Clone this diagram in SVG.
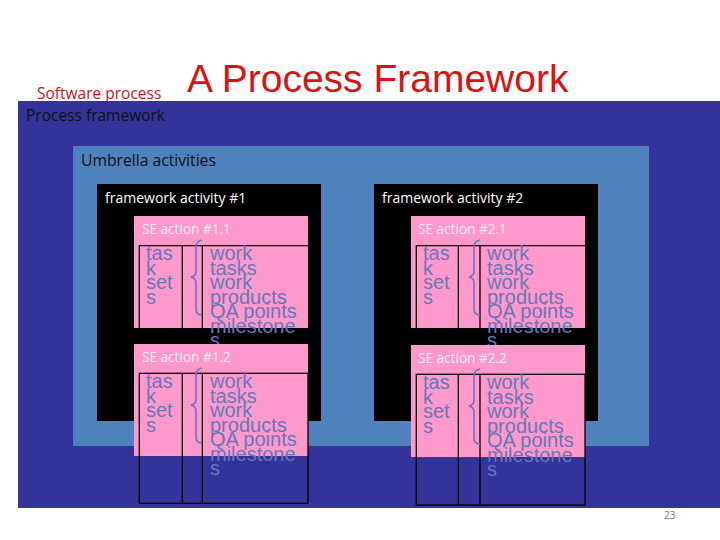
<svg xmlns="http://www.w3.org/2000/svg" width="720" height="540" viewBox="0 0 720 540">
<style>
.ui{font-family:"Liberation Sans","DejaVu Sans",sans-serif}
.lbl{font-family:"Open Sans","Liberation Sans",sans-serif}
.fa{fill:#000}
.se{fill:#ff99cc}
.tbl{fill:none;stroke:#000;stroke-width:1.3}
.sel{font-size:13.6px;fill:#fff;fill-opacity:0.85}
.fal{font-size:14px;fill:#fff}
.cell{font-family:"Liberation Sans",Arial,sans-serif;font-size:20px;fill:#6677bb}
.brace{fill:none;stroke:#6677bb;stroke-width:1.6}
</style>
<rect width="720" height="540" fill="#fff"/>
<text class="ui" x="187" y="92" font-size="39" fill="#dd1111">A Process Framework</text>
<g id="software-process">
<text class="lbl" x="37" y="99" font-size="15.5" fill="#c0151c">Software process</text>
</g>
<g id="process-framework">
<rect x="18" y="101" width="702" height="407" fill="#333399"/>
<text class="lbl" x="26" y="121" font-size="15.5" fill="#111">Process framework</text>
</g>
<g id="umbrella">
<rect x="73" y="146" width="576" height="300" fill="#4f81bd"/>
<text class="lbl" x="81" y="166" font-size="15.7" fill="#111">Umbrella activities</text>
</g>
<g id="fa1">
<rect class="fa" x="97" y="184" width="224" height="237"/>
<text class="lbl fal" x="105" y="203">framework activity #1</text>
</g>
<g id="fa2">
<rect class="fa" x="374" y="184" width="224" height="237"/>
<text class="lbl fal" x="382" y="203">framework activity #2</text>
</g>
<g id="se11">
<rect class="se" x="134" y="216" width="174" height="112"/>
<text class="lbl sel" x="142" y="234">SE action #1.1</text>
<path class="tbl" d="M308,245.7 H139.3 V328 M182.3,245.7 V328 M202.3,245.7 V328"/>
<text class="cell" x="146" y="260">tas</text>
<text class="cell" x="146" y="274.5">k</text>
<text class="cell" x="146" y="289">set</text>
<text class="cell" x="146" y="303.5">s</text>
<path class="brace" d="M202,240 Q196,241 196,247 V271 Q196,276 191,277 Q196,278 196,283 V309 Q196,315 202,315"/>
<text class="cell" x="210" y="260">work</text>
<text class="cell" x="210" y="274.5">tasks</text>
<text class="cell" x="210" y="289">work</text>
<text class="cell" x="210" y="303.5">products</text>
<text class="cell" x="210" y="318">QA points</text>
<text class="cell" x="210" y="332.5">milestone</text>
<text class="cell" x="210" y="347">s</text>
</g>
<g id="se12">
<rect class="se" x="134" y="344" width="174" height="112"/>
<text class="lbl sel" x="142" y="362">SE action #1.2</text>
<rect class="tbl" x="139.3" y="373.3" width="168.7" height="130"/>
<path class="tbl" d="M182.3,373.3 V503.3 M202.3,373.3 V503.3"/>
<text class="cell" x="146" y="388">tas</text>
<text class="cell" x="146" y="402.5">k</text>
<text class="cell" x="146" y="417">set</text>
<text class="cell" x="146" y="431.5">s</text>
<path class="brace" d="M202,368 Q196,369 196,375 V399 Q196,404 191,405 Q196,406 196,411 V437 Q196,443 202,443"/>
<text class="cell" x="210" y="388">work</text>
<text class="cell" x="210" y="402.5">tasks</text>
<text class="cell" x="210" y="417">work</text>
<text class="cell" x="210" y="431.5">products</text>
<text class="cell" x="210" y="446">QA points</text>
<text class="cell" x="210" y="460.5">milestone</text>
<text class="cell" x="210" y="475">s</text>
</g>
<g id="se21">
<rect class="se" x="411" y="216" width="174" height="112"/>
<text class="lbl sel" x="418" y="234">SE action #2.1</text>
<path class="tbl" d="M585,245.7 H416.3 V328 M458.3,245.7 V328 M480,245.7 V328"/>
<text class="cell" x="423" y="260">tas</text>
<text class="cell" x="423" y="274.5">k</text>
<text class="cell" x="423" y="289">set</text>
<text class="cell" x="423" y="303.5">s</text>
<path class="brace" d="M480,240 Q474,241 474,247 V271 Q474,276 469,277 Q474,278 474,283 V309 Q474,315 480,315"/>
<text class="cell" x="487" y="260">work</text>
<text class="cell" x="487" y="274.5">tasks</text>
<text class="cell" x="487" y="289">work</text>
<text class="cell" x="487" y="303.5">products</text>
<text class="cell" x="487" y="318">QA points</text>
<text class="cell" x="487" y="332.5">milestone</text>
<text class="cell" x="487" y="347">s</text>
</g>
<g id="se22">
<rect class="se" x="411" y="345" width="174" height="112"/>
<text class="lbl sel" x="418" y="363">SE action #2.2</text>
<rect class="tbl" x="416.3" y="374.3" width="168.7" height="130.7"/>
<path class="tbl" d="M458.3,374.3 V505 M480,374.3 V505"/>
<text class="cell" x="423" y="389">tas</text>
<text class="cell" x="423" y="403.5">k</text>
<text class="cell" x="423" y="418">set</text>
<text class="cell" x="423" y="432.5">s</text>
<path class="brace" d="M480,369 Q474,370 474,376 V400 Q474,405 469,406 Q474,407 474,412 V438 Q474,444 480,444"/>
<text class="cell" x="487" y="389">work</text>
<text class="cell" x="487" y="403.5">tasks</text>
<text class="cell" x="487" y="418">work</text>
<text class="cell" x="487" y="432.5">products</text>
<text class="cell" x="487" y="447">QA points</text>
<text class="cell" x="487" y="461.5">milestone</text>
<text class="cell" x="487" y="476">s</text>
</g>
<text class="lbl" x="664" y="519" font-size="10" fill="#777">23</text>
</svg>
